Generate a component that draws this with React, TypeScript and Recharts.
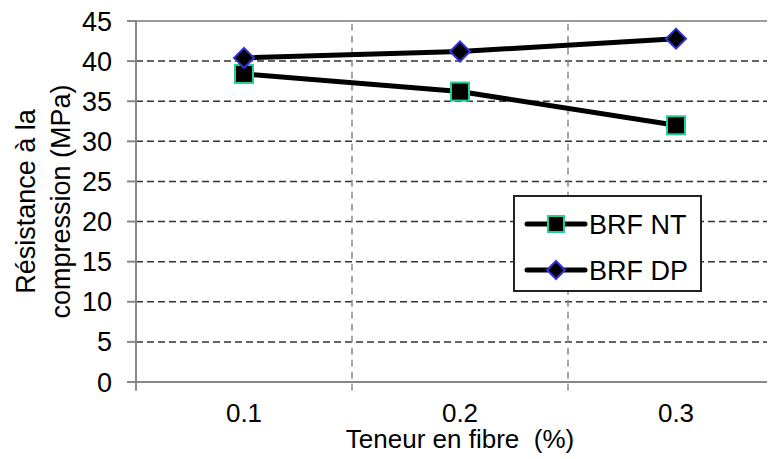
import React from 'react'
import { LineChart, Line, XAxis, YAxis, CartesianGrid, ReferenceLine } from 'recharts'

// fibre content (%) and compressive strength (MPa)
const fibre = [0.1, 0.2, 0.3]
const brfNT = [38.4, 36.2, 32.0]
const brfDP = [40.4, 41.2, 42.8]
const yTicks = [0, 5, 10, 15, 20, 25, 30, 35, 40, 45]
// category boundaries, where the vertical dashed lines sit
const bounds = [0.15, 0.25, 0.35]

const data = fibre.map((x, i) => ({ x, nt: brfNT[i], dp: brfDP[i] }))

const FONT = '"Liberation Sans", Arial, sans-serif'
const TEAL = '#22cf98'
const BLUE = '#3434dc'

const SquareDot = (props: any) => {
  const { cx, cy } = props
  if (cx == null || cy == null) return null
  return <rect x={cx - 9} y={cy - 9} width={18} height={18} fill="#000" stroke={TEAL} strokeWidth={2} />
}

const DiamondDot = (props: any) => {
  const { cx, cy } = props
  if (cx == null || cy == null) return null
  return (
    <path
      d={`M${cx},${cy - 10} L${cx + 10},${cy} L${cx},${cy + 10} L${cx - 10},${cy} Z`}
      fill="#000"
      stroke={BLUE}
      strokeWidth={2}
    />
  )
}

const LegendBox = () => (
  <div
    style={{
      position: 'absolute',
      left: 505,
      top: 187,
      width: 185,
      height: 93,
      border: '2px solid #222',
      background: '#fff',
      fontFamily: FONT,
    }}
  >
    <svg width={185} height={93} style={{ display: 'block' }}>
      <line x1={12} x2={70} y1={27} y2={27} stroke="#000" strokeWidth={5} strokeLinecap="round" />
      <rect x={33} y={19} width={16} height={16} fill="#000" stroke={TEAL} strokeWidth={2} />
      <text x={74} y={37} fontSize={27} fill="#000">BRF NT</text>
      <line x1={12} x2={70} y1={73} y2={73} stroke="#000" strokeWidth={5} strokeLinecap="round" />
      <path d="M41,64 L50,73 L41,82 L32,73 Z" fill="#000" stroke={BLUE} strokeWidth={2} />
      <text x={74} y={83} fontSize={27} fill="#000">BRF DP</text>
    </svg>
  </div>
)

const XTitle = (props: any) => {
  const { x, y, width } = props.viewBox
  return (
    <text x={x + width / 2} y={y + 66} textAnchor="middle" fontSize={26} fontFamily={FONT} fill="#000" style={{ whiteSpace: 'pre' }}>
      {'Teneur en fibre  (%)'}
    </text>
  )
}

const YTitle = (props: any) => {
  const { y, height } = props.viewBox
  const cy = y + height / 2
  return (
    <g fontSize={27} fontFamily={FONT} fill="#000" textAnchor="middle">
      <text x={27} y={cy} transform={`rotate(-90 27 ${cy})`}>Résistance à la</text>
      <text x={62} y={cy} transform={`rotate(-90 62 ${cy})`}>compression (MPa)</text>
    </g>
  )
}

export default function App() {
  return (
    <div style={{ width: 767, height: 451, overflow: 'hidden', position: 'relative' }}>
      <LineChart width={790} height={451} data={data} margin={{ top: 13, right: 14, left: 68, bottom: 47 }}>
        <ReferenceLine y={45} stroke="#999" strokeWidth={2} />
        <CartesianGrid vertical={false} stroke="#333" strokeWidth={1.5} strokeDasharray="7 4" />
        {bounds.map((b) => (
          <ReferenceLine
            key={b}
            segment={[{ x: b, y: -1.1 }, { x: b, y: 45 }]}
            stroke="#8a8a8a"
            strokeWidth={1.5}
            strokeDasharray="7 5"
            ifOverflow="visible"
          />
        ))}
        <ReferenceLine segment={[{ x: 0.05, y: -1.1 }, { x: 0.05, y: 0 }]} stroke="#888" strokeWidth={2} ifOverflow="visible" />
        <XAxis
          dataKey="x"
          type="number"
          domain={[0.05, 0.35]}
          ticks={fibre}
          interval={0}
          tickFormatter={(v: number) => v.toFixed(1)}
          tickLine={false}
          tickSize={0}
          tickMargin={22}
          height={30}
          axisLine={{ stroke: '#888', strokeWidth: 2 }}
          tick={{ fill: '#000', fontSize: 26, fontFamily: FONT }}
          label={<XTitle />}
        />
        <YAxis
          domain={[0, 45]}
          ticks={yTicks}
          interval={0}
          width={60}
          tickSize={9}
          tickMargin={15}
          axisLine={{ stroke: '#888', strokeWidth: 2 }}
          tickLine={{ stroke: '#888', strokeWidth: 2 }}
          tick={{ fill: '#000', fontSize: 27, fontFamily: FONT }}
          label={<YTitle />}
        />
        <Line dataKey="nt" name="BRF NT" stroke="#000" strokeWidth={5} dot={<SquareDot />} isAnimationActive={false} />
        <Line dataKey="dp" name="BRF DP" stroke="#000" strokeWidth={5} dot={<DiamondDot />} isAnimationActive={false} />
      </LineChart>
      <LegendBox />
    </div>
  )
}
